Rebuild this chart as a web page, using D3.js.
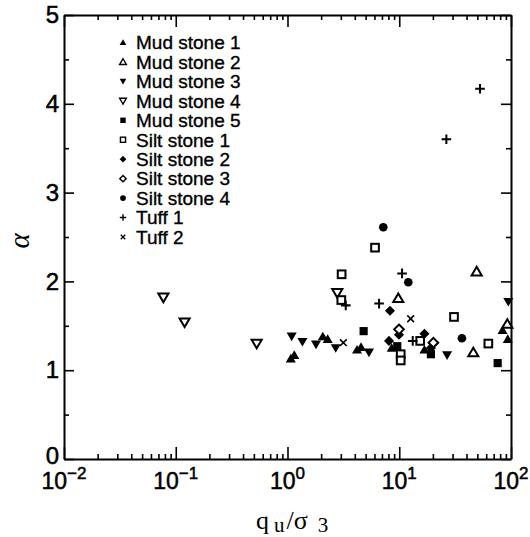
<!DOCTYPE html>
<html>
<head>
<meta charset="utf-8">
<script src="https://cdn.jsdelivr.net/npm/d3@7"></script>
<style>
  body { margin: 0; background: #fff; }
  text { font-family: "Liberation Sans", Arial, Helvetica, sans-serif; fill: #000; }
</style>
</head>
<body>
<svg id="chart" width="530" height="537"></svg>
<script>
// Rock types and the marker used for each
const seriesNames = ["Mud stone 1", "Mud stone 2", "Mud stone 3", "Mud stone 4", "Mud stone 5",
                     "Silt stone 1", "Silt stone 2", "Silt stone 3", "Silt stone 4", "Tuff 1", "Tuff 2"];
const seriesShapes = ["triUp", "triUpOpen", "triDown", "triDownOpen", "square",
                      "squareOpen", "diamond", "diamondOpen", "circle", "plus", "cross"];

// [qu/σ3, α] pairs for each rock type
const mudStone1  = [[1.07, 1.13], [1.15, 1.17], [2.07, 1.38], [2.29, 1.35], [4.19, 1.23], [4.55, 1.26],
                    [8.56, 1.25], [16.8, 1.23], [84, 1.45], [93.6, 1.35]];
const mudStone2  = [[9.8, 1.81], [49.3, 2.11], [46, 1.20], [92.7, 1.52]];
const mudStone3  = [[1.09, 1.38], [1.36, 1.32], [1.80, 1.29], [2.70, 1.25], [5.36, 1.20], [26.8, 1.17], [94.6, 1.77]];
const mudStone4  = [[0.0775, 1.82], [0.120, 1.54], [0.53, 1.30], [2.79, 1.87]];
const mudStone5  = [[4.8, 1.44], [9.6, 1.27], [19.2, 1.18], [76, 1.08]];
const siltStone1 = [[3.05, 2.08], [3.03, 1.79], [6.07, 2.38], [30.9, 1.60], [15.4, 1.33],
                    [10.3, 1.18], [10.3, 1.11], [62.7, 1.30]];
const siltStone2 = [[8.26, 1.67], [9.95, 1.40], [8.1, 1.33], [16.8, 1.41], [19.2, 1.25]];
const siltStone3 = [[9.95, 1.46], [20.2, 1.31]];
const siltStone4 = [[7.2, 2.61], [12.05, 1.99], [36.4, 1.36]];
const tuff1      = [[52.8, 4.17], [26.4, 3.60], [10.6, 2.09], [6.6, 1.75], [3.32, 1.73], [13.2, 1.33]];
const tuff2      = [[3.16, 1.31], [12.65, 1.58]];

const seriesData = [mudStone1, mudStone2, mudStone3, mudStone4, mudStone5,
                    siltStone1, siltStone2, siltStone3, siltStone4, tuff1, tuff2];

// Axis ticks
const xDecades = [0.01, 0.1, 1, 10, 100];
const xExponents = ["\u22122", "\u22121", "0", "1", "2"];
const yMajor = [0, 1, 2, 3, 4, 5];
const yMinor = [0.5, 1.5, 2.5, 3.5, 4.5];

const svg = d3.select("#chart");
const L = 64, R = 511, T = 15, B = 459;

const x = d3.scaleLog().domain([0.01, 100]).range([L, R]);
const y = d3.scaleLinear().domain([0, 5]).range([B, T]);

const xMinor = [];
xDecades.slice(0, -1).forEach(d => { for (let k = 2; k <= 9; k++) xMinor.push(d * k); });

function styleAxis(g) {
  g.select(".domain").attr("stroke", "#000").attr("stroke-width", 2);
  g.selectAll(".tick line").attr("stroke", "#000").attr("stroke-width", 1.6);
}

// Bottom and top x axes, ticks pointing inward
[[B, d3.axisBottom], [T, d3.axisTop]].forEach(([pos, axisFn]) => {
  svg.append("g").attr("transform", `translate(0,${pos})`)
    .call(axisFn(x).tickValues(xDecades).tickSize(-12).tickSizeOuter(0).tickFormat(""))
    .call(styleAxis);
  svg.append("g").attr("transform", `translate(0,${pos})`)
    .call(axisFn(x).tickValues(xMinor).tickSize(-5).tickSizeOuter(0).tickFormat(""))
    .call(g => g.select(".domain").remove())
    .call(styleAxis);
});

// Left and right y axes
svg.append("g").attr("transform", `translate(${L},0)`)
  .call(d3.axisLeft(y).tickValues(yMajor).tickSize(-10).tickSizeOuter(0).tickPadding(5).tickFormat(d3.format("d")))
  .call(styleAxis)
  .call(g => g.selectAll(".tick text")
    .attr("font-size", 24).attr("fill", "#000").attr("stroke", "#000").attr("stroke-width", 0.5)
    .attr("dy", d => d === 0 ? "0.2em" : "0.32em")
    .style("font-family", "'Liberation Sans', Arial, sans-serif"));
svg.append("g").attr("transform", `translate(${L},0)`)
  .call(d3.axisLeft(y).tickValues(yMinor).tickSize(-5).tickSizeOuter(0).tickFormat(""))
  .call(g => g.select(".domain").remove()).call(styleAxis);
svg.append("g").attr("transform", `translate(${R},0)`)
  .call(d3.axisRight(y).tickValues(yMajor).tickSize(-10).tickSizeOuter(0).tickFormat(""))
  .call(styleAxis);
svg.append("g").attr("transform", `translate(${R},0)`)
  .call(d3.axisRight(y).tickValues(yMinor).tickSize(-5).tickSizeOuter(0).tickFormat(""))
  .call(g => g.select(".domain").remove()).call(styleAxis);

// Decade labels 10^n under the bottom axis
xDecades.forEach((d, i) => {
  const t = svg.append("text")
    .attr("x", x(d)).attr("y", 489)
    .attr("text-anchor", "middle")
    .attr("stroke", "#000").attr("stroke-width", 0.5);
  t.append("tspan").attr("font-size", 23).text("10");
  t.append("tspan").attr("font-size", 17).attr("dy", -10).text(xExponents[i]);
});

// Axis titles
svg.append("text")
  .attr("transform", "translate(29,241) rotate(-90)")
  .attr("text-anchor", "middle")
  .style("font-family", "'Liberation Serif', 'Times New Roman', serif")
  .style("font-style", "italic")
  .attr("font-size", 29)
  .text("\u03b1");

const xt = svg.append("text")
  .attr("x", 256).attr("y", 529)
  .style("font-family", "'Liberation Serif', 'Times New Roman', serif")
  .attr("font-size", 26);
xt.append("tspan").text("q");
xt.append("tspan").attr("font-size", 21).attr("dx", 5).attr("dy", 3).text("u");
xt.append("tspan").attr("dx", 2).attr("dy", -3).text("/\u03c3");
xt.append("tspan").attr("font-size", 21).attr("dx", 10).attr("dy", 3).text("3");

// Marker drawing
function drawMarker(g, shape, cx, cy, r) {
  const sw = Math.max(1.4, r * 0.42);
  const tri = (dir) => {
    const h = r * 1.0;
    return `M${cx},${cy - dir * h}L${cx + r * 1.05},${cy + dir * h * 0.8}L${cx - r * 1.05},${cy + dir * h * 0.8}Z`;
  };
  switch (shape) {
    case "triUp":
      g.append("path").attr("d", tri(1)).attr("fill", "#000");
      break;
    case "triUpOpen":
      g.append("path").attr("d", tri(1)).attr("fill", "#fff").attr("stroke", "#000").attr("stroke-width", sw).attr("stroke-linejoin", "miter");
      break;
    case "triDown":
      g.append("path").attr("d", tri(-1)).attr("fill", "#000");
      break;
    case "triDownOpen":
      g.append("path").attr("d", tri(-1)).attr("fill", "#fff").attr("stroke", "#000").attr("stroke-width", sw).attr("stroke-linejoin", "miter");
      break;
    case "square":
      g.append("rect").attr("x", cx - r * 0.85).attr("y", cy - r * 0.85)
        .attr("width", r * 1.7).attr("height", r * 1.7).attr("fill", "#000");
      break;
    case "squareOpen": {
      const s = r * 0.8;
      g.append("rect").attr("x", cx - s).attr("y", cy - s)
        .attr("width", s * 2).attr("height", s * 2).attr("fill", "#fff")
        .attr("stroke", "#000").attr("stroke-width", sw);
      break;
    }
    case "diamond":
      g.append("path").attr("d", `M${cx},${cy - r * 1.05}L${cx + r * 1.05},${cy}L${cx},${cy + r * 1.05}L${cx - r * 1.05},${cy}Z`).attr("fill", "#000");
      break;
    case "diamondOpen":
      g.append("path").attr("d", `M${cx},${cy - r}L${cx + r},${cy}L${cx},${cy + r}L${cx - r},${cy}Z`)
        .attr("fill", "#fff").attr("stroke", "#000").attr("stroke-width", sw);
      break;
    case "circle":
      g.append("circle").attr("cx", cx).attr("cy", cy).attr("r", r * 0.9).attr("fill", "#000");
      break;
    case "plus":
      g.append("path").attr("d", `M${cx - r},${cy}H${cx + r}M${cx},${cy - r}V${cy + r}`)
        .attr("stroke", "#000").attr("stroke-width", sw);
      break;
    case "cross": {
      const c = r * 0.7;
      g.append("path").attr("d", `M${cx - c},${cy - c}L${cx + c},${cy + c}M${cx - c},${cy + c}L${cx + c},${cy - c}`)
        .attr("stroke", "#000").attr("stroke-width", Math.max(1.3, sw * 0.8));
      break;
    }
  }
}

// Data points
const pts = svg.append("g");
seriesData.forEach((data, i) => {
  data.forEach(([qx, a]) => drawMarker(pts, seriesShapes[i], x(qx), y(a), 4.8));
});

// Legend
const legend = svg.append("g");
seriesNames.forEach((name, i) => {
  const ly = 42.5 + i * 19.45;
  drawMarker(legend, seriesShapes[i], 123, ly, 3.2);
  legend.append("text")
    .attr("x", 136).attr("y", ly).attr("dy", "0.36em")
    .attr("font-size", 19)
    .attr("stroke", "#000").attr("stroke-width", 0.35)
    .text(name);
});
</script>
</body>
</html>
